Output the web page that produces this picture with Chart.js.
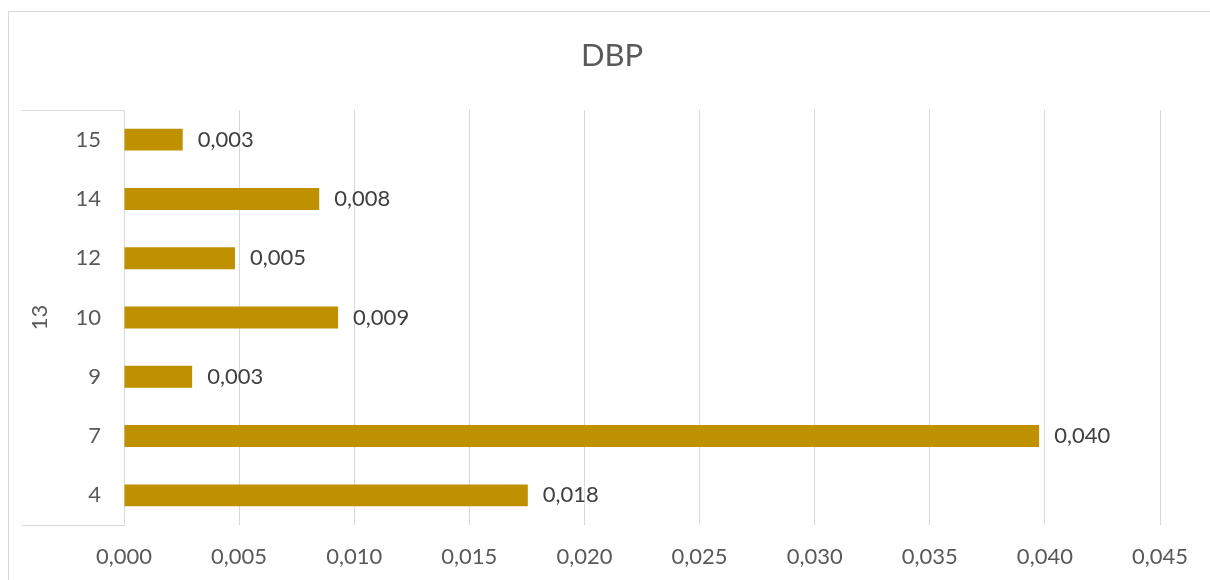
<!DOCTYPE html>
<html>
<head>
<meta charset="utf-8">
<title>DBP</title>
<script src="https://cdn.jsdelivr.net/npm/chart.js@4/dist/chart.umd.min.js"></script>
<style>
  html, body { margin: 0; padding: 0; background: #fff; }
  canvas { display: block; }
</style>
</head>
<body>
<canvas id="dbpChart" width="1210" height="580"></canvas>
<script>
// Datos
const titulo = "DBP";
const grupo = "13";
const categorias = ["15", "14", "12", "10", "9", "7", "4"];
const valores = [0.00255, 0.00848, 0.00482, 0.0093, 0.00296, 0.03975, 0.01754];
const ticksX = [0, 0.005, 0.01, 0.015, 0.02, 0.025, 0.03, 0.035, 0.04, 0.045];

const fuente = "Lato, 'Open Sans', sans-serif";
const coma = v => v.toFixed(3).replace(".", ",");

// Marco, título, eje de categorías con grupo y etiquetas de datos
const decoraciones = {
    id: "decoraciones",
    beforeDraw(chart) {
        const { ctx, chartArea } = chart;
        ctx.save();
        ctx.strokeStyle = "#d9d9d9";
        ctx.lineWidth = 1;
        ctx.strokeRect(8.5, 11.5, 1400, 800);
        ctx.beginPath();
        ctx.moveTo(22, chartArea.top + 0.5);
        ctx.lineTo(chartArea.left, chartArea.top + 0.5);
        ctx.moveTo(22, chartArea.bottom + 0.5);
        ctx.lineTo(chartArea.left, chartArea.bottom + 0.5);
        ctx.stroke();

        ctx.fillStyle = "#595959";
        ctx.textAlign = "center";
        ctx.textBaseline = "middle";
        ctx.font = "31px " + fuente;
        ctx.fillText(titulo, 612, 56);

        ctx.translate(40, (chartArea.top + chartArea.bottom) / 2);
        ctx.rotate(-Math.PI / 2);
        ctx.font = "22px " + fuente;
        ctx.fillText(grupo, 0, 0);
        ctx.restore();
    },
    afterDatasetsDraw(chart) {
        const { ctx } = chart;
        const meta = chart.getDatasetMeta(0);
        ctx.save();
        ctx.fillStyle = "#404040";
        ctx.font = "22px " + fuente;
        ctx.textAlign = "left";
        ctx.textBaseline = "middle";
        meta.data.forEach((bar, i) => {
            ctx.fillText(coma(valores[i]), bar.x + 15, bar.y);
        });
        ctx.restore();
    }
};

const ctx = document.getElementById("dbpChart").getContext("2d");
const dbpChart = new Chart(ctx, {
    type: "bar",
    data: {
        labels: categorias,
        datasets: [{
            label: titulo,
            data: valores,
            backgroundColor: "#bf9000",
            borderWidth: 0,
            barPercentage: 0.37,
            categoryPercentage: 1
        }]
    },
    options: {
        indexAxis: "y",
        responsive: false,
        animation: false,
        layout: { padding: { left: 0, right: 50, top: 110, bottom: 0 } },
        plugins: {
            legend: { display: false },
            tooltip: { enabled: false },
            title: { display: false }
        },
        scales: {
            x: {
                min: 0,
                max: 0.045,
                afterBuildTicks: scale => {
                    scale.ticks = ticksX.map(v => ({ value: v }));
                },
                afterFit: scale => { scale.height = 55; },
                grid: { color: "#d9d9d9", lineWidth: 1, drawTicks: false },
                border: { display: false },
                ticks: {
                    padding: 19,
                    color: "#595959",
                    font: { family: fuente, size: 22 },
                    callback: v => coma(v),
                    maxRotation: 0
                }
            },
            y: {
                afterFit: scale => { scale.width = 124; },
                grid: { display: false, drawTicks: false },
                border: { display: true, color: "#d9d9d9", width: 1 },
                ticks: {
                    padding: 23,
                    color: "#595959",
                    font: { family: fuente, size: 22 }
                }
            }
        }
    },
    plugins: [decoraciones]
});
</script>
</body>
</html>
